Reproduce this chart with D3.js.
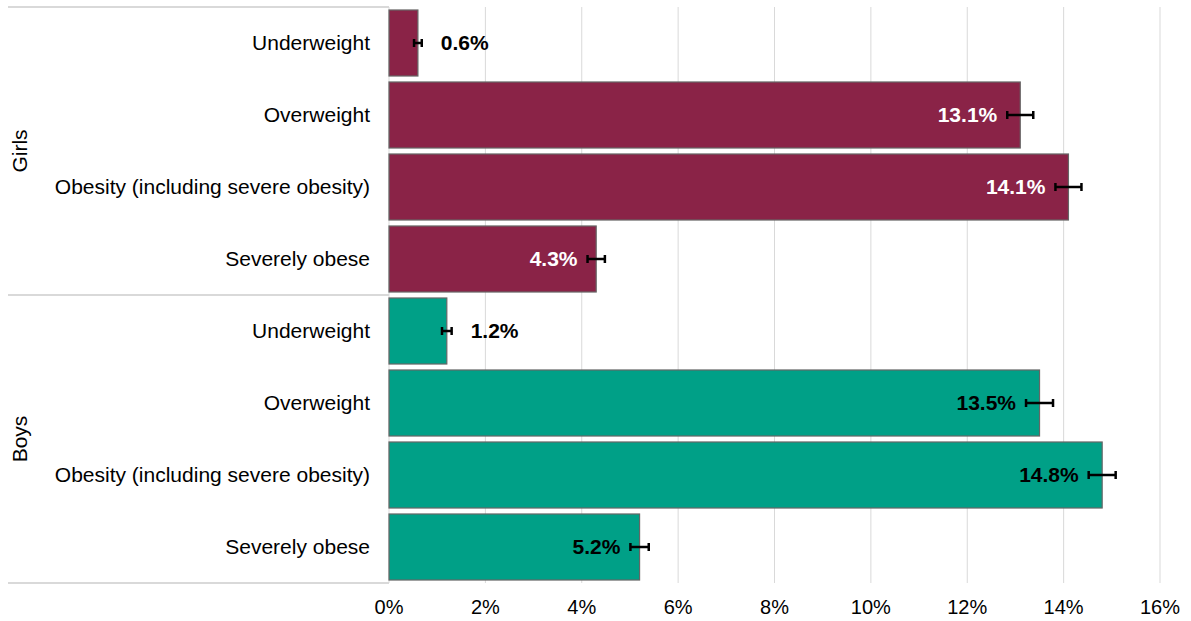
<!DOCTYPE html>
<html>
<head>
<meta charset="utf-8">
<script src="https://cdn.jsdelivr.net/npm/d3@7"></script>
<style>
  body { margin: 0; background: #fff; }
  svg { font-family: "Liberation Sans", Arial, sans-serif; }
</style>
</head>
<body>
<svg id="chart" width="1191" height="621"></svg>
<script>
// data
var groups = ["Girls", "Boys"];
var categories = ["Underweight", "Overweight", "Obesity (including severe obesity)", "Severely obese"];
var girlsValues = [0.6, 13.1, 14.1, 4.3];
var boysValues = [1.2, 13.5, 14.8, 5.2];
var girlsErr = [0.08, 0.27, 0.27, 0.18];
var boysErr = [0.1, 0.28, 0.28, 0.19];
var xTicks = [0, 2, 4, 6, 8, 10, 12, 14, 16];
var groupColors = { Girls: "#8a2347", Boys: "#00a087" };
var insideText = { Girls: "#ffffff", Boys: "#000000" };

var rows = [];
groups.forEach(function (g) {
    var vals = g === "Girls" ? girlsValues : boysValues;
    var errs = g === "Girls" ? girlsErr : boysErr;
    categories.forEach(function (c, i) {
        rows.push({ group: g, cat: c, value: vals[i], err: errs[i], key: g + "|" + c });
    });
});

var svg = d3.select("#chart");
var plotLeft = 389, plotRight = 1160, plotTop = 7, plotBottom = 583, labelLeft = 8;

var x = d3.scaleLinear().domain([0, 16]).range([plotLeft, plotRight]);
var y = d3.scaleBand()
    .domain(rows.map(function (d) { return d.key; }))
    .range([plotTop, plotBottom])
    .paddingInner(0.083)
    .paddingOuter(0.0415);
var step = y.step();

// gridlines
svg.append("g").selectAll("line")
    .data(xTicks)
    .enter().append("line")
    .attr("x1", function (d) { return x(d); })
    .attr("x2", function (d) { return x(d); })
    .attr("y1", plotTop)
    .attr("y2", plotBottom)
    .attr("stroke", "#d9d9d9")
    .attr("stroke-width", 1);

// group separators in the label area
var sepY = [plotTop, plotTop + step * categories.length, plotBottom];
svg.append("g").selectAll("line")
    .data(sepY)
    .enter().append("line")
    .attr("x1", labelLeft)
    .attr("x2", plotLeft)
    .attr("y1", function (d) { return d; })
    .attr("y2", function (d) { return d; })
    .attr("stroke", "#d9d9d9")
    .attr("stroke-width", 2);

// x axis tick labels
svg.append("g").selectAll("text")
    .data(xTicks)
    .enter().append("text")
    .attr("x", function (d) { return x(d); })
    .attr("y", 614)
    .attr("text-anchor", "middle")
    .style("font-size", "20px")
    .attr("fill", "#000")
    .text(function (d) { return d + "%"; });

// category labels
svg.append("g").selectAll("text")
    .data(rows)
    .enter().append("text")
    .attr("x", plotLeft - 19)
    .attr("y", function (d) { return y(d.key) + y.bandwidth() / 2; })
    .attr("dy", "0.35em")
    .attr("text-anchor", "end")
    .style("font-size", "21px")
    .attr("fill", "#000")
    .text(function (d) { return d.cat; });

// group labels (rotated)
svg.append("g").selectAll("text")
    .data(groups)
    .enter().append("text")
    .attr("transform", function (g, i) {
        var cy = plotTop + step * categories.length * (i + 0.5);
        return "translate(20," + cy + ") rotate(-90)";
    })
    .attr("dy", "0.35em")
    .attr("text-anchor", "middle")
    .style("font-size", "21px")
    .attr("fill", "#000")
    .text(function (g) { return g; });

// bars
svg.append("g").selectAll("rect")
    .data(rows)
    .enter().append("rect")
    .attr("x", x(0))
    .attr("y", function (d) { return y(d.key); })
    .attr("width", function (d) { return x(d.value) - x(0); })
    .attr("height", y.bandwidth())
    .attr("fill", function (d) { return groupColors[d.group]; })
    .attr("stroke", "#666")
    .attr("stroke-width", 1.2);

// error bars
var eb = svg.append("g").selectAll("g")
    .data(rows)
    .enter().append("g")
    .attr("transform", function (d) { return "translate(0," + (y(d.key) + y.bandwidth() / 2) + ")"; });
eb.append("line")
    .attr("x1", function (d) { return x(d.value - d.err); })
    .attr("x2", function (d) { return x(d.value + d.err); })
    .attr("stroke", "#000").attr("stroke-width", 2.5);
eb.append("line")
    .attr("x1", function (d) { return x(d.value - d.err); })
    .attr("x2", function (d) { return x(d.value - d.err); })
    .attr("y1", -4).attr("y2", 4)
    .attr("stroke", "#000").attr("stroke-width", 2.5);
eb.append("line")
    .attr("x1", function (d) { return x(d.value + d.err); })
    .attr("x2", function (d) { return x(d.value + d.err); })
    .attr("y1", -4).attr("y2", 4)
    .attr("stroke", "#000").attr("stroke-width", 2.5);

// value labels
svg.append("g").selectAll("text")
    .data(rows)
    .enter().append("text")
    .attr("x", function (d) {
        return d.value > 3 ? x(d.value - d.err) - 10 : x(d.value + d.err) + 19;
    })
    .attr("y", function (d) { return y(d.key) + y.bandwidth() / 2; })
    .attr("dy", "0.35em")
    .attr("text-anchor", function (d) { return d.value > 3 ? "end" : "start"; })
    .style("font-size", "21px")
    .style("font-weight", "bold")
    .attr("fill", function (d) { return d.value > 3 ? insideText[d.group] : "#000"; })
    .text(function (d) { return d.value.toFixed(1) + "%"; });
</script>
</body>
</html>
